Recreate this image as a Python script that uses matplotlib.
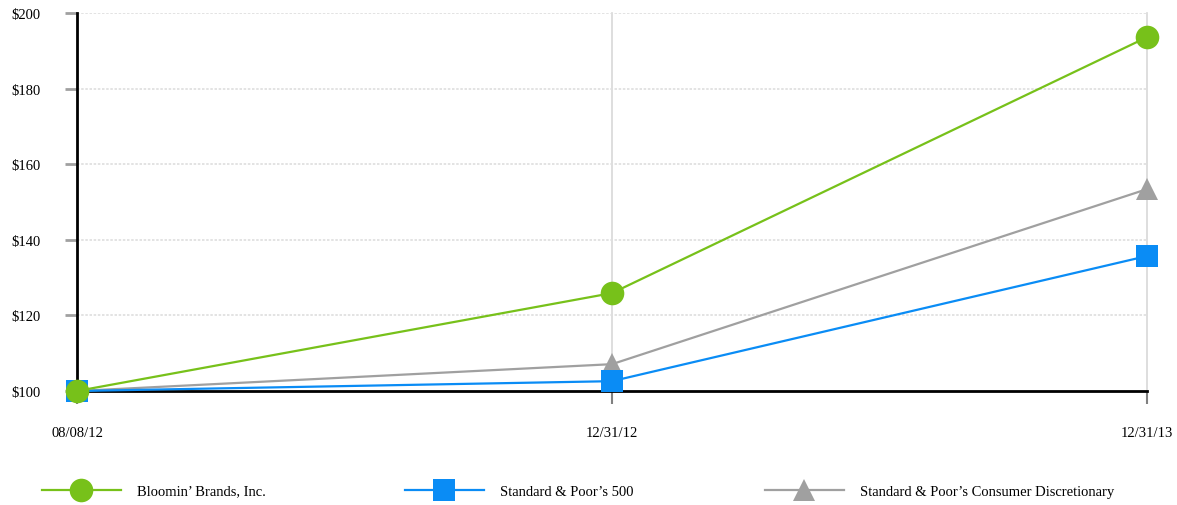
import matplotlib
matplotlib.use("Agg")
from matplotlib import pyplot as plt
from matplotlib.ticker import FuncFormatter

# data
dates = ["08/08/12", "12/31/12", "12/31/13"]
bloomin = [100, 125.9, 193.6]
sp500 = [100, 102.6, 135.7]
sp_cons_disc = [100, 107.1, 153.4]

series_names = [
    "Bloomin’ Brands, Inc.",
    "Standard & Poor’s 500",
    "Standard & Poor’s Consumer Discretionary",
]
series_values = [bloomin, sp500, sp_cons_disc]
colors = ["#77c11a", "#0a8cf5", "#a0a0a0"]
markers = ["o", "s", "^"]
marker_sizes = [17, 15.5, 16]
y_ticks = [100, 120, 140, 160, 180, 200]

plt.rcParams["font.family"] = ["Liberation Serif", "DejaVu Serif"]
plt.rcParams["font.size"] = 10.5

fig = plt.figure(figsize=(11.77, 5.06), dpi=100)
ax = fig.add_axes([77 / 1177, 1 - 392 / 506, (1147 - 77) / 1177, (392 - 14) / 506])

x = list(range(len(dates)))

# vertical grid lines at the later dates
for xi in x[1:]:
    ax.axvline(xi, color="#d8d8d8", lw=1.2, zorder=1, clip_on=False)
# horizontal dotted grid
for yv in y_ticks[1:]:
    ax.axhline(yv, color="#dedede", lw=1.2, ls=(0, (1.5, 1)), zorder=1)

handles = []
# draw in reverse so green stays on top
for name, vals, col, mk, ms in reversed(list(zip(series_names, series_values, colors, markers, marker_sizes))):
    (ln,) = ax.plot(x, vals, color=col, lw=1.6, marker=mk, markersize=ms,
                    markeredgewidth=0, clip_on=False, zorder=3, label=name)
    handles.insert(0, ln)

ax.set_xlim(0, 2)
ax.set_ylim(100, 200)
ax.set_xticks(x)
ax.set_xticklabels(dates)
ax.set_yticks(y_ticks)
ax.yaxis.set_major_formatter(FuncFormatter(lambda v, p: f"${v:.0f}"))

for side in ["top", "right"]:
    ax.spines[side].set_visible(False)
ax.spines["left"].set_linewidth(2)
ax.spines["bottom"].set_linewidth(2)
ax.spines["left"].set_zorder(2)
ax.spines["bottom"].set_zorder(2)

ax.tick_params(axis="y", length=9, width=2, color="#a0a0a0", pad=17.5, direction="out")
ax.tick_params(axis="x", length=9, width=1.5, color="#808080", pad=16, direction="out")

# legend entries spread across the bottom
legend_x = [42 / 1177, 405 / 1177, 765 / 1177]
for h, lx in zip(handles, legend_x):
    fig.legend(handles=[h], loc="center left", bbox_to_anchor=(lx, 1 - 492 / 506),
               frameon=False, handlelength=5.4, handletextpad=1.1, borderaxespad=0,
               borderpad=0, fontsize=10.5)

fig.savefig("out.png", dpi=100)
